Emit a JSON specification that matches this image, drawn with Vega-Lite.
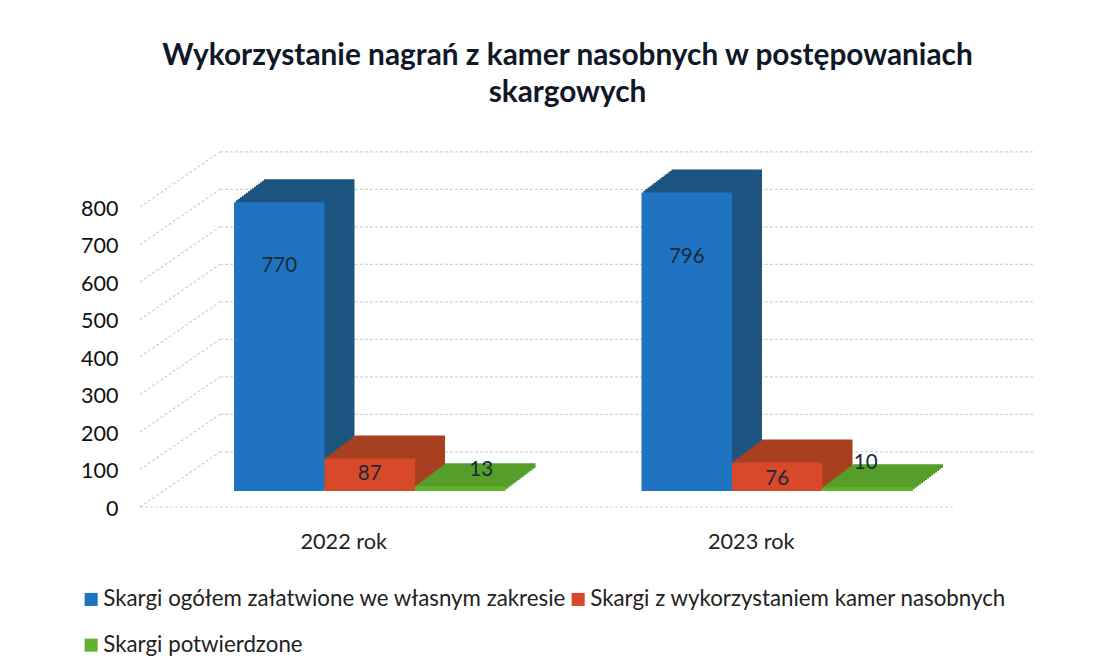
{"$schema":"https://vega.github.io/schema/vega-lite/v6.json","width":895,"height":355,"autosize":"none","padding":{"left":140,"top":152,"right":74,"bottom":164},"background":"white","config":{"view":{"stroke":null},"font":"Lato","axisY":{"grid":false,"ticks":false,"domain":false,"labelPadding":22,"labelFontSize":21.5,"labelColor":"#111","labelFont":"Lato","labelOffset":2},"axisX":{"grid":false,"ticks":false,"domain":false,"labelPadding":24,"labelFontSize":21.7,"labelColor":"#222","labelFont":"Lato","labelAngle":0}},"title":{"text":["Wykorzystanie nagrań z kamer nasobnych w postępowaniach","skargowych"],"font":"Lato","fontWeight":"bold","fontSize":29.8,"color":"#101828","anchor":"middle","frame":"group","dx":-20,"offset":43,"lineHeight":37},"datasets":{"bars":[{"rok":"2022 rok","seria":"Skargi ogółem załatwione we własnym zakresie","value":770},{"rok":"2022 rok","seria":"Skargi z wykorzystaniem kamer nasobnych","value":87},{"rok":"2022 rok","seria":"Skargi potwierdzone","value":13},{"rok":"2023 rok","seria":"Skargi ogółem załatwione we własnym zakresie","value":796},{"rok":"2023 rok","seria":"Skargi z wykorzystaniem kamer nasobnych","value":76},{"rok":"2023 rok","seria":"Skargi potwierdzone","value":10}],"grid":[{"a":0,"b":1,"lo":0,"hi":147},{"a":0,"b":1,"lo":100,"hi":247},{"a":0,"b":1,"lo":200,"hi":347},{"a":0,"b":1,"lo":300,"hi":447},{"a":0,"b":1,"lo":400,"hi":547},{"a":0,"b":1,"lo":500,"hi":647},{"a":0,"b":1,"lo":600,"hi":747},{"a":0,"b":1,"lo":700,"hi":847},{"a":0,"b":1,"lo":800,"hi":947},{"a":1,"b":11.19,"lo":147,"hi":147},{"a":1,"b":11.19,"lo":247,"hi":247},{"a":1,"b":11.19,"lo":347,"hi":347},{"a":1,"b":11.19,"lo":447,"hi":447},{"a":1,"b":11.19,"lo":547,"hi":547},{"a":1,"b":11.19,"lo":647,"hi":647},{"a":1,"b":11.19,"lo":747,"hi":747},{"a":1,"b":11.19,"lo":847,"hi":847},{"a":1,"b":11.19,"lo":947,"hi":947},{"a":0,"b":10.19,"lo":0,"hi":0}]},"resolve":{"scale":{"x":"independent"}},"layer":[{"data":{"name":"grid"},"mark":{"type":"rule","color":"#cfd3d3","strokeWidth":1.2,"strokeDash":[3,2]},"encoding":{"x":{"field":"a","type":"quantitative","scale":{"domain":[0,11.19],"range":[0,895]},"axis":null},"x2":{"field":"b"},"y":{"field":"lo","type":"quantitative","title":null,"scale":{"domain":[0,946.67],"nice":false},"axis":{"title":null,"values":[0,100,200,300,400,500,600,700,800]}},"y2":{"field":"hi"}}},{"data":{"name":"bars"},"resolve":{"scale":{"color":"independent"}},"encoding":{"x":{"field":"rok","type":"nominal","title":null,"scale":{"range":[0,815],"paddingInner":0.336,"paddingOuter":0.168},"axis":{"title":null}},"y":{"field":"value","type":"quantitative","stack":null,"title":null,"scale":{"domain":[0,946.67],"nice":false},"axis":{"title":null,"values":[0,100,200,300,400,500,600,700,800]}}},"layer":[{"encoding":{"y2":{"datum":0},"color":{"field":"seria","type":"nominal","legend":null,"scale":{"domain":["Skargi ogółem załatwione we własnym zakresie","Skargi z wykorzystaniem kamer nasobnych","Skargi potwierdzone"],"range":["#1d5480","#a8401f","#559e2a"]}}},"layer":[{"mark":{"type":"bar","width":90.5,"yOffset":-39,"y2Offset":-39,"xOffset":{"expr":"56+(datum.seria[7]=='o'?-90.5:datum.seria[7]=='p'?90.5:0)"}}},{"mark":{"type":"bar","width":90.5,"yOffset":-37.5,"y2Offset":-37.5,"xOffset":{"expr":"54+(datum.seria[7]=='o'?-90.5:datum.seria[7]=='p'?90.5:0)"}}},{"mark":{"type":"bar","width":90.5,"yOffset":-36,"y2Offset":-36,"xOffset":{"expr":"52+(datum.seria[7]=='o'?-90.5:datum.seria[7]=='p'?90.5:0)"}}},{"mark":{"type":"bar","width":90.5,"yOffset":-34.5,"y2Offset":-34.5,"xOffset":{"expr":"50+(datum.seria[7]=='o'?-90.5:datum.seria[7]=='p'?90.5:0)"}}},{"mark":{"type":"bar","width":90.5,"yOffset":-33,"y2Offset":-33,"xOffset":{"expr":"48+(datum.seria[7]=='o'?-90.5:datum.seria[7]=='p'?90.5:0)"}}},{"mark":{"type":"bar","width":90.5,"yOffset":-31.5,"y2Offset":-31.5,"xOffset":{"expr":"46+(datum.seria[7]=='o'?-90.5:datum.seria[7]=='p'?90.5:0)"}}},{"mark":{"type":"bar","width":90.5,"yOffset":-30,"y2Offset":-30,"xOffset":{"expr":"44+(datum.seria[7]=='o'?-90.5:datum.seria[7]=='p'?90.5:0)"}}},{"mark":{"type":"bar","width":90.5,"yOffset":-28.5,"y2Offset":-28.5,"xOffset":{"expr":"42+(datum.seria[7]=='o'?-90.5:datum.seria[7]=='p'?90.5:0)"}}},{"mark":{"type":"bar","width":90.5,"yOffset":-27,"y2Offset":-27,"xOffset":{"expr":"40+(datum.seria[7]=='o'?-90.5:datum.seria[7]=='p'?90.5:0)"}}},{"mark":{"type":"bar","width":90.5,"yOffset":-25.5,"y2Offset":-25.5,"xOffset":{"expr":"38+(datum.seria[7]=='o'?-90.5:datum.seria[7]=='p'?90.5:0)"}}},{"mark":{"type":"bar","width":90.5,"yOffset":-24,"y2Offset":-24,"xOffset":{"expr":"36+(datum.seria[7]=='o'?-90.5:datum.seria[7]=='p'?90.5:0)"}}},{"mark":{"type":"bar","width":90.5,"yOffset":-22.5,"y2Offset":-22.5,"xOffset":{"expr":"34+(datum.seria[7]=='o'?-90.5:datum.seria[7]=='p'?90.5:0)"}}},{"mark":{"type":"bar","width":90.5,"yOffset":-21,"y2Offset":-21,"xOffset":{"expr":"32+(datum.seria[7]=='o'?-90.5:datum.seria[7]=='p'?90.5:0)"}}},{"mark":{"type":"bar","width":90.5,"yOffset":-19.5,"y2Offset":-19.5,"xOffset":{"expr":"30+(datum.seria[7]=='o'?-90.5:datum.seria[7]=='p'?90.5:0)"}}},{"mark":{"type":"bar","width":90.5,"yOffset":-18,"y2Offset":-18,"xOffset":{"expr":"28+(datum.seria[7]=='o'?-90.5:datum.seria[7]=='p'?90.5:0)"}}}]},{"mark":{"type":"bar","width":90.5,"yOffset":-16,"y2Offset":-16,"xOffset":{"expr":"26+(datum.seria[7]=='o'?-90.5:datum.seria[7]=='p'?90.5:0)"}},"encoding":{"y2":{"datum":0},"color":{"field":"seria","type":"nominal","scale":{"domain":["Skargi ogółem załatwione we własnym zakresie","Skargi z wykorzystaniem kamer nasobnych","Skargi potwierdzone"],"range":["#1f73c0","#d8492a","#62b22f"]},"legend":{"orient":"none","legendX":-60,"legendY":436,"title":null,"columns":2,"direction":"horizontal","symbolType":"square","symbolSize":170,"labelFontSize":22.3,"labelColor":"#222","labelLimit":600,"labelOffset":1,"rowPadding":23,"columnPadding":0,"labelFont":"Lato"}}}},{"mark":{"type":"text","fontSize":20.5,"color":"#1a2a3a","font":"Lato","baseline":"middle","xOffset":{"expr":"26+(datum.seria[7]=='o'?-90.5:datum.seria[7]=='p'?90.5:0)"},"dy":{"expr":"datum.value>500?48:datum.value>50?0:datum.value==13?-32:-40"},"dx":{"expr":"datum.value==13?21:datum.value==10?-2:0"}},"encoding":{"text":{"field":"value","type":"quantitative"}}}]}]}
